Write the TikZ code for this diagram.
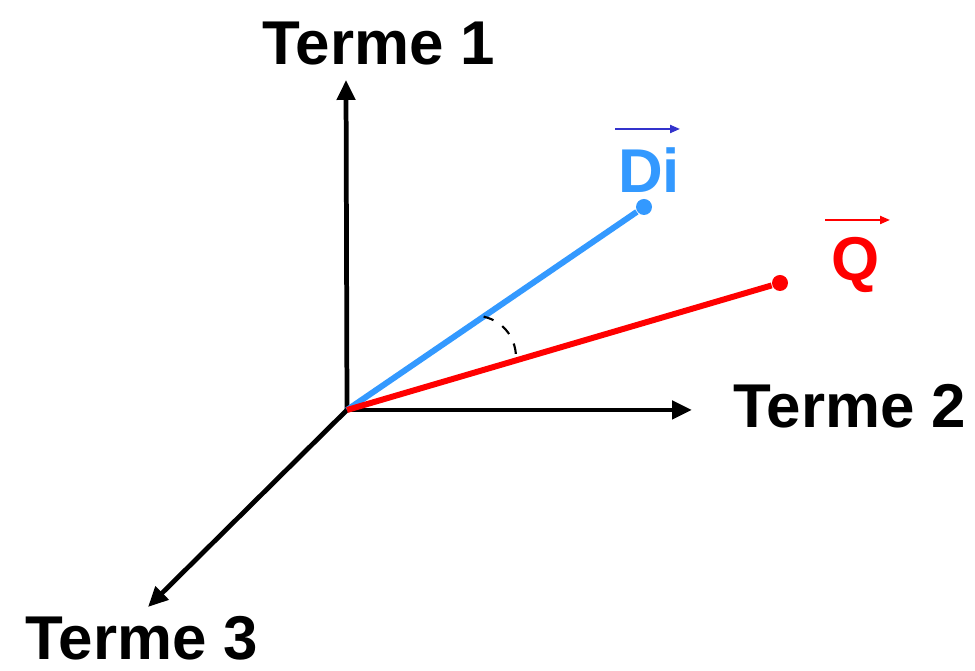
\documentclass[tikz,border=0pt]{standalone}
\usepackage{fontspec}
\setmainfont{Liberation Sans}
\usepackage{xcolor}
\usetikzlibrary{positioning, arrows.meta, calc}

\definecolor{docblue}{HTML}{3399FF}
\definecolor{vecblue}{HTML}{3333CC}
\definecolor{qred}{HTML}{FF0000}

\begin{document}
\begin{tikzpicture}[
    axis/.style={
        line width=1.35pt,
        -{Triangle[length=0.2cm, width=0.18cm]}
    },
    vector/.style={
        line width=1.7pt
    },
    vecarrow/.style={
        line width=0.6pt,
        -{Triangle[length=0.1cm, width=0.08cm]}
    },
    label/.style={
        anchor=base,
        inner sep=0pt,
        font=\fontsize{17.6}{20}\selectfont\bfseries
    },
    dot/.style={
        circle,
        inner sep=0pt,
        minimum size=0.16cm
    }
]
\useasboundingbox (0,0) rectangle (9.75,6.71);

% Axes

\coordinate (O) at (3.47,2.61);
\coordinate (t1) at (3.46,5.91);
\coordinate (t2) at (6.92,2.61);
\coordinate (t3) at (1.48,0.64);

\draw[axis] (O)--(t1);
\draw[axis] (O)--(t2);
\draw[axis] (O)--(t3);

\node[label] (terme1) at (3.79,6.06) {Terme 1};
\node[label] (terme2) at (8.50,2.43) {Terme 2};
\node[label] (terme3) at (1.42,0.11) {Terme 3};

% Vectors

\node[dot, fill=docblue] (di) at (6.44,4.64) {};
\node[dot, fill=qred] (q) at (7.80,3.88) {};

\draw[vector, docblue] (O)--(di);
\draw[vector, qred] (O)--(q);

\node[label, text=docblue] (dilabel) at (6.49,4.78) {Di};
\node[label, text=qred] (qlabel) at (8.56,3.90) {Q};

\coordinate (dia) at (6.15,5.42);
\coordinate (dib) at (6.80,5.42);
\coordinate (qa) at (8.25,4.51);
\coordinate (qb) at (8.90,4.51);

\draw[vecarrow, vecblue] (dia)--(dib);
\draw[vecarrow, qred] (qa)--(qb);

% Angle

\coordinate (a1) at ($(O)!0.46!(di)$);
\coordinate (a2) at ($(O)!0.39!(q)$);
\draw[dashed, line width=0.6pt] (a1) to[bend left=40] (a2);

\end{tikzpicture}
\end{document}
